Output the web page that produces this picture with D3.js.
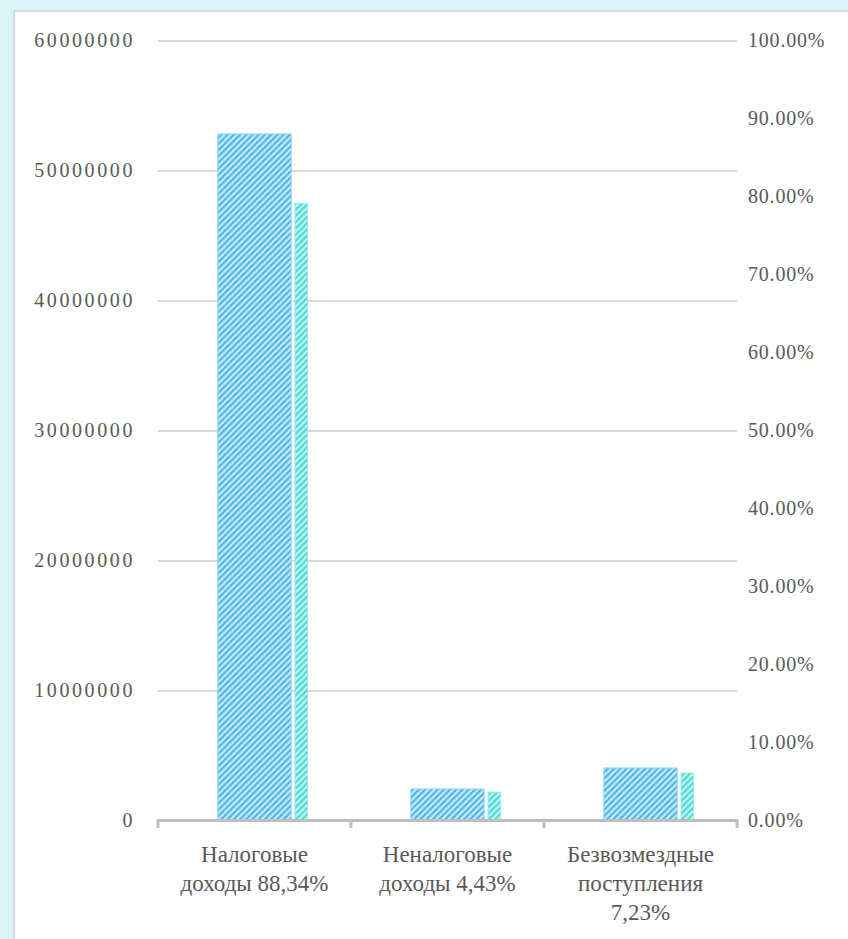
<!DOCTYPE html>
<html>
<head>
<meta charset="utf-8">
<script src="https://cdn.jsdelivr.net/npm/d3@7"></script>
<style>
  body { margin: 0; background: #daf3f7; }
  svg { display: block; }
  text { font-family: "Liberation Serif", "DejaVu Serif", serif; fill: #595959; }
</style>
</head>
<body>
<svg id="chart" width="848" height="939"></svg>
<script>
// data
const categories = [
  ['Налоговые', 'доходы 88,34%'],
  ['Неналоговые', 'доходы 4,43%'],
  ['Безвозмездные', 'поступления', '7,23%']
];
const amounts = [52850000, 2460000, 4080000];   // left axis
const shares = [0.792, 0.037, 0.0615];          // right axis
const leftTicks = [0, 10000000, 20000000, 30000000, 40000000, 50000000, 60000000];
const rightTicks = [0, 0.1, 0.2, 0.3, 0.4, 0.5, 0.6, 0.7, 0.8, 0.9, 1.0];

const svg = d3.select('#chart');

// white panel
svg.append('rect')
  .attr('x', 14)
  .attr('y', 11)
  .attr('width', 850)
  .attr('height', 940)
  .attr('fill', 'white')
  .attr('stroke', '#d9d9d9')
  .attr('stroke-width', 2);

// hatch patterns
const defs = svg.append('defs');
function hatch(id, light, dark) {
  const p = defs.append('pattern')
    .attr('id', id)
    .attr('patternUnits', 'userSpaceOnUse')
    .attr('width', 4.4)
    .attr('height', 4.4)
    .attr('patternTransform', 'rotate(45)');
  p.append('rect').attr('width', 4.4).attr('height', 4.4).attr('fill', light);
  p.append('rect').attr('width', 2).attr('height', 4.4).attr('fill', dark);
}
hatch('hatchBlue', '#c0e7f9', '#4bb5e8');
hatch('hatchCyan', '#bdf3f0', '#45dad8');

const x = d3.scaleBand()
  .domain(d3.range(categories.length))
  .range([158, 737]);

const yLeft = d3.scaleLinear()
  .domain([0, 60000000])
  .range([821, 41]);

const yRight = d3.scaleLinear()
  .domain([0, 1])
  .range([821, 41]);

// gridlines
svg.append('g')
  .selectAll('line')
  .data(leftTicks.slice(1))
  .join('line')
  .attr('x1', 158)
  .attr('x2', 737)
  .attr('y1', d => yLeft(d))
  .attr('y2', d => yLeft(d))
  .attr('stroke', '#d9d9d9')
  .attr('stroke-width', 2);

// left tick labels
svg.append('g')
  .selectAll('text')
  .data(leftTicks)
  .join('text')
  .attr('x', 135)
  .attr('y', d => yLeft(d) + 6)
  .attr('text-anchor', 'end')
  .attr('font-size', 20)
  .attr('letter-spacing', 2.6)
  .text(d => d);

// right tick labels
svg.append('g')
  .selectAll('text')
  .data(rightTicks)
  .join('text')
  .attr('x', 748)
  .attr('y', d => yRight(d) + 6)
  .attr('font-size', 20)
  .attr('letter-spacing', 0.8)
  .text(d => d3.format('.2%')(d));

// main bars
const bw = x.bandwidth();
svg.append('g')
  .selectAll('rect')
  .data(amounts)
  .join('rect')
  .attr('x', (d, i) => x(i) + bw * 0.31)
  .attr('width', bw * 0.38)
  .attr('y', d => yLeft(d))
  .attr('height', d => yLeft(0) - yLeft(d))
  .attr('fill', 'url(#hatchBlue)')
  .attr('stroke', '#8fd2f1')
  .attr('stroke-width', 1);

// share bars
svg.append('g')
  .selectAll('rect')
  .data(shares)
  .join('rect')
  .attr('x', (d, i) => x(i) + bw * 0.71)
  .attr('width', bw * 0.065)
  .attr('y', d => yRight(d))
  .attr('height', d => yRight(0) - yRight(d))
  .attr('fill', 'url(#hatchCyan)')
  .attr('stroke', '#9ae9e5')
  .attr('stroke-width', 1);

// category axis
svg.append('line')
  .attr('x1', 157)
  .attr('x2', 738)
  .attr('y1', 820.5)
  .attr('y2', 820.5)
  .attr('stroke', '#bfbfbf')
  .attr('stroke-width', 3);

svg.append('g')
  .selectAll('line')
  .data(d3.range(categories.length + 1))
  .join('line')
  .attr('x1', d => 158 + d * bw)
  .attr('x2', d => 158 + d * bw)
  .attr('y1', 820)
  .attr('y2', 828)
  .attr('stroke', '#bfbfbf')
  .attr('stroke-width', 3);

// category labels
const labels = svg.append('g')
  .selectAll('text')
  .data(categories)
  .join('text')
  .attr('text-anchor', 'middle')
  .attr('font-size', 23)
  .attr('y', 862);

labels.selectAll('tspan')
  .data((d, i) => d.map(t => ({ t, i })))
  .join('tspan')
  .attr('x', d => x(d.i) + bw / 2)
  .attr('dy', (d, j) => j === 0 ? 0 : 29)
  .text(d => d.t);
</script>
</body>
</html>
